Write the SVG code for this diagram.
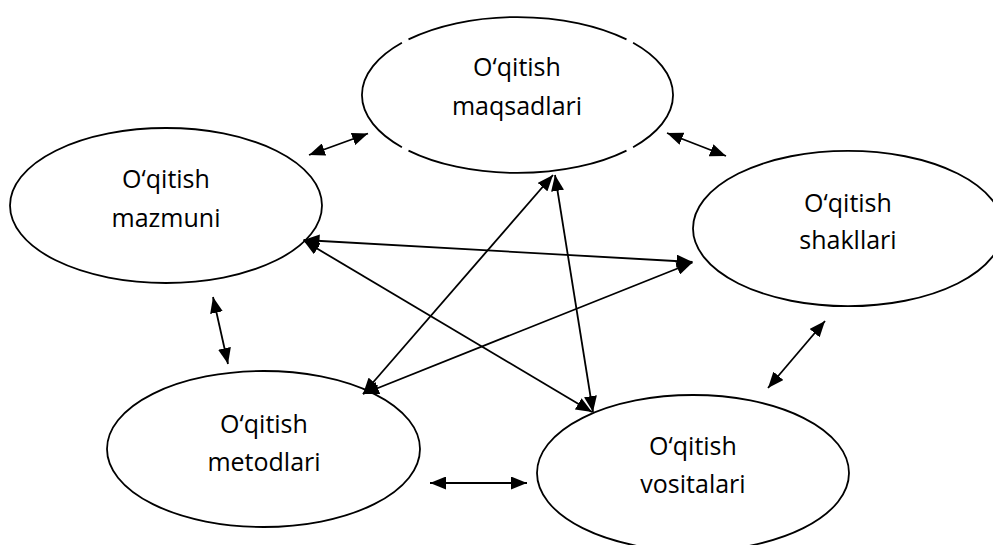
<svg xmlns="http://www.w3.org/2000/svg" width="993" height="545" viewBox="0 0 993 545">
<style>
.node{fill:#fff;stroke:#000;stroke-width:1.8}
.lbl{font-family:"Open Sans","Noto Sans",sans-serif;font-size:25px;fill:#000;text-anchor:middle}
.c line{stroke:#000;stroke-width:1.8;marker-start:url(#ah);marker-end:url(#ah)}
</style>
<defs>
<marker id="ah" viewBox="0 0 16 13" refX="16" refY="6.5" markerWidth="16" markerHeight="13" markerUnits="userSpaceOnUse" orient="auto-start-reverse">
<path d="M0,0 L16,6.5 L0,13 z" fill="#000"/>
</marker>
</defs>
<rect width="993" height="545" fill="#fff"/>
<g id="n-maqsadlari">
<path d="M633.1,42.8 A155.5,78 0 0 1 633.1,147.2 M626.5,150.6 A155.5,78 0 0 1 408.5,150.6 M401.9,147.2 A155.5,78 0 0 1 401.9,42.8 M408.5,39.4 A155.5,78 0 0 1 626.5,39.4" fill="none" stroke="#000" stroke-width="1.8"/>
<text class="lbl" x="517" y="76">O‘qitish</text>
<text class="lbl" x="517" y="115">maqsadlari</text>
</g>
<g id="n-mazmuni">
<ellipse class="node" cx="166" cy="205.5" rx="156" ry="77.5"/>
<text class="lbl" x="166" y="188">O‘qitish</text>
<text class="lbl" x="166" y="227">mazmuni</text>
</g>
<g id="n-shakllari">
<ellipse class="node" cx="848" cy="228.5" rx="155" ry="77.7"/>
<text class="lbl" x="848" y="212">O‘qitish</text>
<text class="lbl" x="848" y="249">shakllari</text>
</g>
<g id="n-metodlari">
<ellipse class="node" cx="263.5" cy="449" rx="156.5" ry="78"/>
<text class="lbl" x="264" y="433">O‘qitish</text>
<text class="lbl" x="264" y="471">metodlari</text>
</g>
<g id="n-vositalari">
<ellipse class="node" cx="693" cy="473" rx="156" ry="78"/>
<text class="lbl" x="693" y="455">O‘qitish</text>
<text class="lbl" x="693" y="493">vositalari</text>
</g>
<g id="connectors" class="c">
<line x1="309" y1="155" x2="368" y2="133.5"/>
<line x1="667" y1="133" x2="726" y2="156"/>
<line x1="303.5" y1="240" x2="692.5" y2="262"/>
<line x1="303.5" y1="240.5" x2="592" y2="412"/>
<line x1="553" y1="175" x2="363" y2="394"/>
<line x1="555" y1="175" x2="593" y2="412"/>
<line x1="363" y1="394" x2="692.5" y2="262.5"/>
<line x1="213" y1="297" x2="228" y2="364"/>
<line x1="825" y1="321" x2="768" y2="388"/>
<line x1="430" y1="483" x2="527" y2="483"/>
</g>
</svg>
